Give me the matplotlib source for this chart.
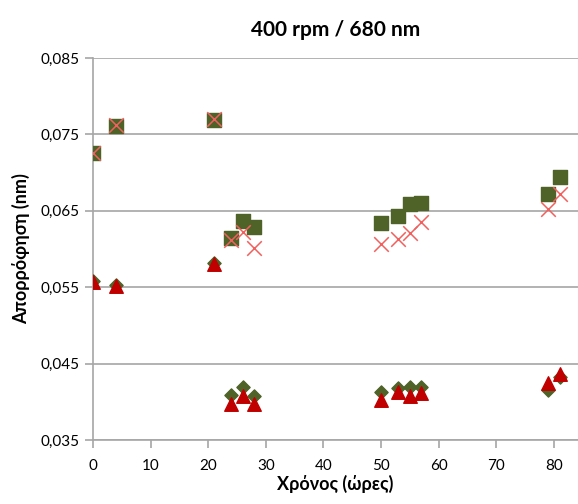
import matplotlib
matplotlib.use("Agg")
import matplotlib.pyplot as plt
from matplotlib.ticker import FuncFormatter

plt.rcParams['font.family'] = ['Lato', 'DejaVu Sans']

# time (hours)
hours = [0, 4, 21, 24, 26, 28, 50, 53, 55, 57, 79, 81]

# absorbance series
squares = [0.0726, 0.0761, 0.0769, 0.0614, 0.0637, 0.0629,
           0.0634, 0.0643, 0.0659, 0.0660, 0.0672, 0.0694]
crosses = [0.0726, 0.0762, 0.0770, 0.0612, 0.0622, 0.0601,
           0.0607, 0.0613, 0.0621, 0.0635, 0.0652, 0.0672]
diamonds = [0.0558, 0.0553, 0.0581, 0.0409, 0.0419, 0.0408,
            0.0413, 0.0418, 0.0419, 0.0419, 0.0416, 0.0432]
triangles = [0.0557, 0.0552, 0.0580, 0.0397, 0.0408, 0.0397,
             0.0402, 0.0413, 0.0408, 0.0412, 0.0425, 0.0436]

y_ticks = [0.035, 0.045, 0.055, 0.065, 0.075, 0.085]
x_ticks = [0, 10, 20, 30, 40, 50, 60, 70, 80]

fig = plt.figure(figsize=(5.78, 5.04), dpi=100)
ax = fig.add_axes([0.161, 0.127, 0.839, 0.758])

ax.scatter(hours, squares, marker='s', s=90, color='#4F6228', zorder=3)
ax.scatter(hours, crosses, marker='x', s=110, color='#F0605E', linewidths=1.1, zorder=4)
ax.scatter(hours, diamonds, marker='D', s=45, color='#4F6228', zorder=3)
ax.scatter(hours, triangles, marker='^', s=95, color='#C00000', zorder=4)

ax.set_xlim(0, 84.2)
ax.set_ylim(0.035, 0.085)
ax.set_yticks(y_ticks)
ax.set_xticks(x_ticks)
ax.yaxis.set_major_formatter(FuncFormatter(lambda v, p: f"{v:.3f}".replace('.', ',')))

ax.grid(axis='y', color='#A6A6A6', linewidth=1.2)
ax.set_axisbelow(True)
for s in ('top', 'right'):
    ax.spines[s].set_visible(False)
for s in ('left', 'bottom'):
    ax.spines[s].set_color('#A6A6A6')
    ax.spines[s].set_linewidth(1.2)
ax.tick_params(axis='both', colors='#A6A6A6', length=6, width=1.2, labelsize=11,
               labelcolor='black')
ax.tick_params(axis='x', pad=8)

ax.set_title('400 rpm / 680 nm', fontsize=15, fontweight='bold', pad=16)
ax.set_xlabel('Χρόνος (ώρες)', fontsize=13, fontweight='bold', labelpad=1)
ax.set_ylabel('Απορρόφηση (nm)', fontsize=13, fontweight='bold', labelpad=8)

fig.savefig('out.png', dpi=100)
